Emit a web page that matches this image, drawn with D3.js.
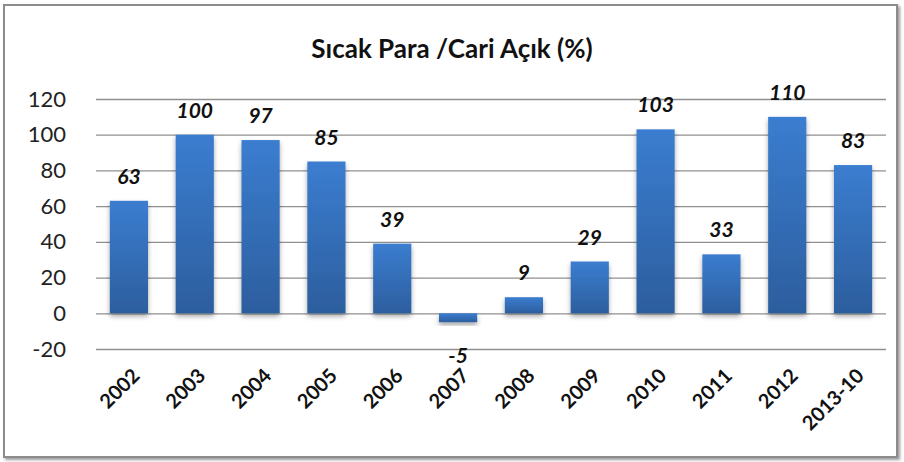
<!DOCTYPE html>
<html>
<head>
<meta charset="utf-8">
<script src="https://cdn.jsdelivr.net/npm/d3@7"></script>
<style>
  body { margin: 0; background: #fff; }
  text { font-family: Lato, 'Open Sans', sans-serif; }
</style>
</head>
<body>
<div id="chart"></div>
<script>
const years = ['2002', '2003', '2004', '2005', '2006', '2007', '2008', '2009', '2010', '2011', '2012', '2013-10']
const values = [63, 100, 97, 85, 39, -5, 9, 29, 103, 33, 110, 83]
const yTicks = [-20, 0, 20, 40, 60, 80, 100, 120]

const W = 904
const H = 462
const margin = { top: 99, left: 96, right: 18, bottom: 113 }
const width = W - margin.left - margin.right
const height = H - margin.top - margin.bottom

const root = d3.select('#chart').append('svg').attr('width', W).attr('height', H)

const defs = root.append('defs')
const grad = defs.append('linearGradient').attr('id', 'barGrad')
  .attr('x1', 0).attr('y1', 0).attr('x2', 0).attr('y2', 1)
grad.append('stop').attr('offset', '0%').attr('stop-color', '#3b7dd0')
grad.append('stop').attr('offset', '100%').attr('stop-color', '#2c5e9e')

const shadow = defs.append('filter').attr('id', 'shadow')
  .attr('x', '-20%').attr('y', '-20%').attr('width', '140%').attr('height', '160%')
shadow.append('feDropShadow').attr('dx', 0).attr('dy', 3).attr('stdDeviation', 2.5)
  .attr('flood-color', '#000').attr('flood-opacity', 0.35)

const frameShadow = defs.append('filter').attr('id', 'frameShadow')
frameShadow.append('feDropShadow').attr('dx', 2).attr('dy', 2).attr('stdDeviation', 1.5)
  .attr('flood-color', '#000').attr('flood-opacity', 0.4)

// outer frame
root.append('rect')
  .attr('x', 4).attr('y', 5).attr('width', 893).attr('height', 452)
  .attr('fill', '#fff').attr('stroke', '#8c8c8c').attr('stroke-width', 2)
  .attr('filter', 'url(#frameShadow)')

root.append('text')
  .attr('x', 452).attr('y', 58)
  .attr('text-anchor', 'middle')
  .attr('font-size', 26).attr('font-weight', 'bold')
  .attr('fill', '#111')
  .text('Sıcak Para /Cari Açık (%)')

const svg = root.append('g')
  .attr('transform', 'translate(' + margin.left + ',' + margin.top + ')')

const x = d3.scaleBand().domain(years).range([0, width]).paddingInner(0.42).paddingOuter(0.21)
const y = d3.scaleLinear().domain([-20, 120]).range([height, 0])

const yAxis = d3.axisLeft(y).tickValues(yTicks).tickSize(-width).tickPadding(30)
  .tickFormat(d => String(d))
svg.append('g')
  .attr('class', 'y-axis')
  .call(yAxis)
  .call(g => g.select('.domain').remove())
  .call(g => g.selectAll('line').attr('stroke', '#8f8f8f').attr('stroke-width', 1.3))
  .call(g => g.selectAll('text').attr('font-size', 22).attr('fill', '#222')
    .attr('font-family', 'Lato, sans-serif'))

svg.selectAll('.bar')
  .data(values)
  .enter()
  .append('rect')
  .attr('class', 'bar')
  .attr('x', (d, i) => x(years[i]))
  .attr('width', x.bandwidth())
  .attr('y', d => y(Math.max(d, 0)))
  .attr('height', d => Math.abs(y(d) - y(0)))
  .attr('fill', 'url(#barGrad)')
  .attr('filter', 'url(#shadow)')

svg.selectAll('.label')
  .data(values)
  .enter()
  .append('text')
  .attr('class', 'label')
  .attr('x', (d, i) => x(years[i]) + x.bandwidth() / 2)
  .attr('y', d => d >= 0 ? y(d) - 17 : y(d) + 41)
  .attr('text-anchor', 'middle')
  .attr('font-size', 21).attr('font-weight', 'bold').attr('font-style', 'italic')
  .attr('fill', '#111')
  .text(d => d)

svg.selectAll('.xlab')
  .data(years)
  .enter()
  .append('text')
  .attr('class', 'xlab')
  .attr('transform', d => 'translate(' + (x(d) + x.bandwidth() / 2 + 12) + ',' + (height + 28) + ') rotate(-45)')
  .attr('text-anchor', 'end')
  .attr('font-size', 20).attr('font-weight', 'bold')
  .attr('fill', '#111')
  .text(d => d)
</script>
</body>
</html>
